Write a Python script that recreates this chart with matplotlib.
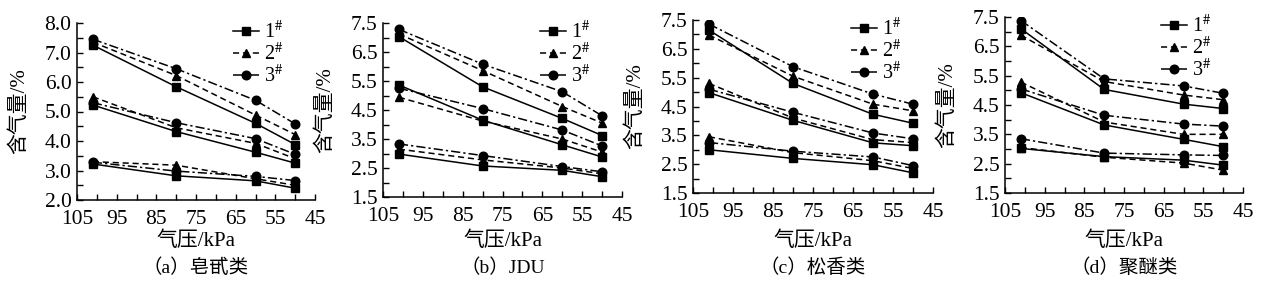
import matplotlib
matplotlib.use("Agg")
import matplotlib.pyplot as plt
from matplotlib.ticker import MultipleLocator, FixedLocator

plt.rcParams['font.family'] = ['Liberation Serif', 'Noto Sans CJK SC']
plt.rcParams['mathtext.fontset'] = 'stix'
plt.rcParams['axes.unicode_minus'] = False

# pressure points (kPa)
pressure = [101, 80, 60, 50]

# air content (%) for three groups (high / mid / low) and admixtures 1#, 2#, 3#
# (a) saponin
a_hi_1 = [7.25, 5.84, 4.60, 3.88]
a_hi_2 = [7.35, 6.22, 4.88, 4.22]
a_hi_3 = [7.45, 6.45, 5.38, 4.58]
a_mid_1 = [5.22, 4.32, 3.62, 3.25]
a_mid_2 = [5.50, 4.45, 3.92, 3.40]
a_mid_3 = [5.30, 4.62, 4.08, 3.55]
a_lo_1 = [3.22, 2.82, 2.65, 2.40]
a_lo_2 = [3.30, 3.18, 2.72, 2.50]
a_lo_3 = [3.28, 2.98, 2.80, 2.66]

# (b) JDU
b_hi_1 = [7.03, 5.30, 4.21, 3.62]
b_hi_2 = [7.12, 5.86, 4.62, 4.05]
b_hi_3 = [7.28, 6.08, 5.13, 4.30]
b_mid_1 = [5.36, 4.15, 3.30, 2.88]
b_mid_2 = [4.94, 4.12, 3.50, 3.05]
b_mid_3 = [5.25, 4.55, 3.81, 3.26]
b_lo_1 = [2.98, 2.57, 2.42, 2.20]
b_lo_2 = [3.15, 2.78, 2.50, 2.30]
b_lo_3 = [3.33, 2.93, 2.55, 2.37]

# (c) rosin
c_hi_1 = [7.15, 5.30, 4.23, 3.92]
c_hi_2 = [6.98, 5.55, 4.58, 4.35]
c_hi_3 = [7.36, 5.88, 4.93, 4.58]
c_mid_1 = [4.98, 4.02, 3.24, 3.14]
c_mid_2 = [5.30, 4.10, 3.35, 3.25]
c_mid_3 = [5.10, 4.30, 3.58, 3.38]
c_lo_1 = [3.00, 2.70, 2.48, 2.20]
c_lo_2 = [3.45, 2.90, 2.62, 2.35]
c_lo_3 = [3.25, 2.95, 2.75, 2.45]

# (d) polyether
d_hi_1 = [7.10, 5.03, 4.53, 4.38]
d_hi_2 = [6.88, 5.30, 4.84, 4.68]
d_hi_3 = [7.38, 5.39, 5.15, 4.90]
d_mid_1 = [4.92, 3.82, 3.33, 3.08]
d_mid_2 = [5.28, 3.92, 3.50, 3.50]
d_mid_3 = [5.05, 4.15, 3.85, 3.78]
d_lo_1 = [3.02, 2.74, 2.62, 2.45]
d_lo_2 = [3.05, 2.72, 2.52, 2.28]
d_lo_3 = [3.35, 2.86, 2.80, 2.78]

captions = ['（a）皂甙类', '（b）JDU', '（c）松香类', '（d）聚醚类']
legend_labels = [r'1$^{\#}$', r'2$^{\#}$', r'3$^{\#}$']
ylims = [(2.0, 8.0), (1.5, 7.5), (1.5, 7.5), (1.5, 7.5)]

panels = [
    [(a_hi_1, a_mid_1, a_lo_1), (a_hi_2, a_mid_2, a_lo_2), (a_hi_3, a_mid_3, a_lo_3)],
    [(b_hi_1, b_mid_1, b_lo_1), (b_hi_2, b_mid_2, b_lo_2), (b_hi_3, b_mid_3, b_lo_3)],
    [(c_hi_1, c_mid_1, c_lo_1), (c_hi_2, c_mid_2, c_lo_2), (c_hi_3, c_mid_3, c_lo_3)],
    [(d_hi_1, d_mid_1, d_lo_1), (d_hi_2, d_mid_2, d_lo_2), (d_hi_3, d_mid_3, d_lo_3)],
]

styles = [
    dict(marker='s', linestyle='-'),
    dict(marker='^', linestyle=(0, (4, 2.5))),
    dict(marker='o', linestyle=(0, (6, 2, 1.5, 2))),
]

W, H = 1275, 290
fig = plt.figure(figsize=(W / 100, H / 100), dpi=100)

# axes boxes in pixels: left, top, right, bottom
boxes = [(77, 23, 315, 200), (383, 23, 622, 197), (693, 20, 933, 193), (1005, 17, 1243, 193)]

for i, (l, t, r, b) in enumerate(boxes):
    ax = fig.add_axes([l / W, 1 - b / H, (r - l) / W, (b - t) / H])
    for s, groups in enumerate(panels[i]):
        for g, vals in enumerate(groups):
            ax.plot(pressure, vals, color='black', lw=1.1, markersize=6.2,
                    label=legend_labels[s] if g == 0 else None, **styles[s])
    ax.set_xlim(105, 45)
    ax.set_ylim(*ylims[i])
    ax.xaxis.set_major_locator(FixedLocator([105, 95, 85, 75, 65, 55, 45]))
    ax.xaxis.set_minor_locator(MultipleLocator(5))
    y0 = ylims[i][0]
    ax.yaxis.set_major_locator(FixedLocator([y0 + k for k in range(7)]))
    ax.yaxis.set_minor_locator(MultipleLocator(0.5))
    ax.yaxis.set_major_formatter(plt.FormatStrFormatter('%.1f'))
    ax.tick_params(which='both', direction='in', length=4, width=1, labelsize=15.5)
    ax.tick_params(axis='x', pad=7)
    ax.tick_params(axis='y', pad=4)
    for side in ['top', 'right']:
        ax.spines[side].set_visible(False)
    for side in ['left', 'bottom']:
        ax.spines[side].set_linewidth(1.1)
    ax.set_ylabel('含气量/%', fontsize=15)
    ax.yaxis.set_label_coords(-48 / (r - l), 0.5)
    ax.legend(loc='upper right', bbox_to_anchor=(0.92, 1.08), frameon=False,
              fontsize=14.5, handlelength=1.3, handletextpad=0.25, labelspacing=0.0,
              borderpad=0.1)
    cx = (l + r) / 2 / W
    fig.text(cx, 1 - 241 / H, '气压/kPa', ha='center', va='center', fontsize=15)
    fig.text(cx, 1 - 268 / H, captions[i], ha='center', va='center', fontsize=14)

fig.savefig('out.png', dpi=100)
